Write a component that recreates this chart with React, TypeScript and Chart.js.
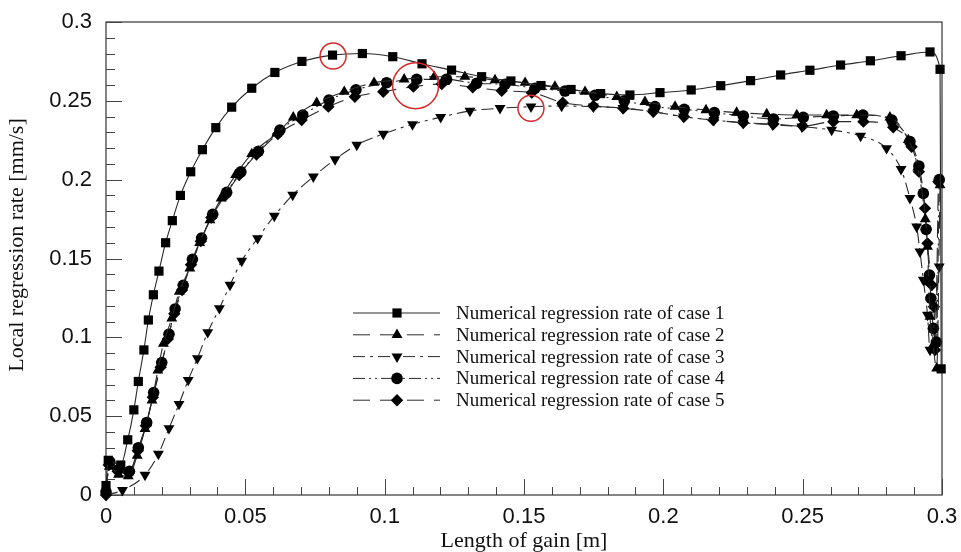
import React, { useEffect, useRef } from 'react';
import { Chart, registerables } from 'chart.js';

Chart.register(...registerables);

// ---------- data ----------
const case1X = [0, 0.0008, 0.0053, 0.0078, 0.0100, 0.0116, 0.0136, 0.0152, 0.0170, 0.0190, 0.0214, 0.0238, 0.0267, 0.0304, 0.0346, 0.0394, 0.0451, 0.0523, 0.0606, 0.0703, 0.0813, 0.0920, 0.1029, 0.1134, 0.1240, 0.1348, 0.1453, 0.1561, 0.1669, 0.1775, 0.1880, 0.1988, 0.2100, 0.2206, 0.2313, 0.2421, 0.2526, 0.2636, 0.2743, 0.2853, 0.2957, 0.2993, 0.2997];
const case1Y = [0.006, 0.022, 0.019, 0.035, 0.054, 0.072, 0.092, 0.111, 0.127, 0.142, 0.160, 0.174, 0.190, 0.205, 0.219, 0.233, 0.246, 0.258, 0.268, 0.275, 0.279, 0.280, 0.278, 0.2735, 0.2695, 0.2653, 0.2626, 0.2597, 0.2572, 0.2546, 0.2537, 0.2552, 0.2569, 0.2596, 0.2628, 0.2664, 0.2694, 0.2727, 0.2754, 0.2786, 0.281, 0.270, 0.08];

const case2X = [0, 0.0012, 0.0045, 0.0080, 0.0112, 0.0140, 0.0165, 0.0186, 0.0206, 0.0236, 0.0263, 0.0301, 0.0336, 0.0373, 0.0413, 0.0465, 0.0523, 0.0613, 0.0672, 0.0756, 0.0855, 0.0962, 0.1070, 0.1178, 0.1288, 0.1396, 0.1504, 0.1611, 0.1719, 0.1833, 0.1934, 0.2042, 0.2153, 0.2263, 0.2371, 0.2479, 0.2586, 0.2694, 0.2813, 0.2879, 0.2913, 0.2940, 0.2948, 0.2952, 0.2957, 0.2968, 0.2981, 0.2993];
const case2Y = [0.003, 0.018, 0.013, 0.012, 0.025, 0.042, 0.060, 0.079, 0.096, 0.112, 0.129, 0.1438, 0.160, 0.1744, 0.1882, 0.203, 0.2163, 0.2294, 0.2395, 0.2488, 0.2558, 0.2615, 0.2636, 0.2653, 0.2653, 0.2632, 0.2615, 0.259, 0.2558, 0.2526, 0.2494, 0.2463, 0.2442, 0.2425, 0.2416, 0.241, 0.241, 0.241, 0.2395, 0.2252, 0.2078, 0.175, 0.1575, 0.135, 0.1131, 0.095, 0.0804, 0.1966];

const case3X = [0, 0.0059, 0.0140, 0.0188, 0.0226, 0.0262, 0.0295, 0.0328, 0.0365, 0.0407, 0.0445, 0.0487, 0.0544, 0.0604, 0.0670, 0.0744, 0.0822, 0.0900, 0.0995, 0.1100, 0.1201, 0.1306, 0.1414, 0.1525, 0.1635, 0.1749, 0.1855, 0.1963, 0.2072, 0.2182, 0.2286, 0.2392, 0.2497, 0.2604, 0.2708, 0.2801, 0.2853, 0.2885, 0.2909, 0.2921, 0.2933, 0.2948, 0.2957, 0.2990];
const case3Y = [0.000, 0.003, 0.0127, 0.026, 0.0423, 0.0577, 0.0729, 0.0867, 0.1032, 0.1184, 0.1332, 0.1484, 0.1628, 0.177, 0.1903, 0.2019, 0.2129, 0.222, 0.229, 0.2351, 0.2396, 0.2436, 0.2453, 0.2463, 0.2467, 0.2463, 0.2454, 0.2431, 0.2399, 0.2378, 0.236, 0.2348, 0.2336, 0.2315, 0.2277, 0.2199, 0.2066, 0.1882, 0.1702, 0.1543, 0.1364, 0.1142, 0.092, 0.1448];

const case4X = [0, 0.0014, 0.0044, 0.0084, 0.0116, 0.0146, 0.0171, 0.0200, 0.0226, 0.0248, 0.0277, 0.0310, 0.0343, 0.0383, 0.0433, 0.0484, 0.0547, 0.0624, 0.0706, 0.0800, 0.0897, 0.1007, 0.1115, 0.1222, 0.1330, 0.1432, 0.1540, 0.1647, 0.1755, 0.1860, 0.1970, 0.2075, 0.2183, 0.2287, 0.2395, 0.2502, 0.2610, 0.2716, 0.2820, 0.2885, 0.2917, 0.2933, 0.2943, 0.2955, 0.2960, 0.2969, 0.2980, 0.2990];
const case4Y = [0.002, 0.021, 0.016, 0.015, 0.030, 0.046, 0.065, 0.084, 0.102, 0.118, 0.133, 0.1495, 0.163, 0.178, 0.192, 0.205, 0.218, 0.2315, 0.241, 0.2505, 0.257, 0.2615, 0.2636, 0.2636, 0.2611, 0.2605, 0.258, 0.2562, 0.2535, 0.250, 0.2463, 0.2446, 0.2425, 0.2404, 0.2385, 0.2395, 0.2404, 0.241, 0.2378, 0.2241, 0.2087, 0.1913, 0.1685, 0.1395, 0.1248, 0.1057, 0.097, 0.200];

const case5X = [0, 0.0010, 0.0042, 0.0082, 0.0114, 0.0143, 0.0168, 0.0196, 0.0222, 0.0245, 0.0273, 0.0305, 0.0340, 0.0378, 0.0428, 0.0478, 0.0540, 0.0617, 0.0702, 0.0798, 0.0893, 0.0995, 0.1103, 0.1205, 0.1316, 0.1420, 0.1528, 0.1639, 0.1749, 0.1856, 0.1964, 0.2074, 0.2179, 0.2287, 0.2395, 0.2500, 0.2610, 0.2718, 0.2825, 0.2891, 0.2917, 0.2939, 0.2948, 0.2963, 0.2971, 0.2975, 0.2987];
const case5Y = [0.000, 0.019, 0.015, 0.014, 0.028, 0.044, 0.062, 0.081, 0.099, 0.115, 0.130, 0.146, 0.161, 0.176, 0.190, 0.203, 0.216, 0.229, 0.2378, 0.2463, 0.2526, 0.2558, 0.259, 0.2607, 0.2586, 0.2564, 0.2552, 0.2488, 0.2467, 0.2453, 0.2431, 0.2399, 0.2378, 0.2361, 0.2353, 0.234, 0.2368, 0.2368, 0.2332, 0.2209, 0.2051, 0.1818, 0.1596, 0.1332, 0.1194, 0.092, 0.1987];

const seriesLabels = [
  'Numerical regression rate of case 1',
  'Numerical regression rate of case 2',
  'Numerical regression rate of case 3',
  'Numerical regression rate of case 4',
  'Numerical regression rate of case 5',
];

const xTickValues = [0, 0.05, 0.1, 0.15, 0.2, 0.25, 0.3];
const xTickLabels = ['0', '0.05', '0.1', '0.15', '0.2', '0.25', '0.3'];
const yTickValues = [0, 0.05, 0.1, 0.15, 0.2, 0.25, 0.3];
const yTickLabels = ['0', '0.05', '0.1', '0.15', '0.2', '0.25', '0.3'];
const minorTickValues = Array.from({ length: 31 }, (_, i) => i / 100);

const xAxisTitle = 'Length of gain [m]';
const yAxisTitle = 'Local regression rate [mm/s]';

// highlighted points (data coords)
const highlightX = [0.0815, 0.1111, 0.1525];
const highlightY = [0.2784, 0.2596, 0.2453];

// ---------- styles ----------
const SANS = "'Liberation Sans', Arial, sans-serif";
const SERIF = "'Liberation Serif', 'Times New Roman', serif";
const LINE_COLOR = '#2a2a2a';
const MARK_COLOR = '#000';
const highlightRadiusPx = [13, 23, 13];

function drawMarker(ctx: CanvasRenderingContext2D, style: string, x: number, y: number, r: number, rot: number) {
  ctx.save();
  ctx.translate(x, y);
  ctx.rotate((rot * Math.PI) / 180);
  ctx.beginPath();
  if (style === 'rect') {
    const s = Math.SQRT1_2 * r;
    ctx.rect(-s, -s, 2 * s, 2 * s);
  } else if (style === 'circle') {
    ctx.arc(0, 0, r, 0, Math.PI * 2);
  } else if (style === 'triangle') {
    for (let k = 0; k < 3; k++) {
      const a = -Math.PI / 2 + (k * 2 * Math.PI) / 3;
      const px = Math.cos(a) * r;
      const py = Math.sin(a) * r;
      if (k === 0) ctx.moveTo(px, py);
      else ctx.lineTo(px, py);
    }
    ctx.closePath();
  } else if (style === 'rectRot') {
    ctx.moveTo(0, -r);
    ctx.lineTo(r, 0);
    ctx.lineTo(0, r);
    ctx.lineTo(-r, 0);
    ctx.closePath();
  }
  ctx.fillStyle = MARK_COLOR;
  ctx.fill();
  ctx.restore();
}

const frameTicksPlugin = {
  id: 'frameTicks',
  beforeDatasetsDraw(chart: any) {
    const { ctx, chartArea: a, scales } = chart;
    const xs = scales.x;
    const ys = scales.y;
    ctx.save();
    ctx.strokeStyle = '#444';
    ctx.lineWidth = 1.3;
    ctx.strokeRect(a.left, a.top, a.right - a.left, a.bottom - a.top);
    ctx.lineWidth = 1;
    ctx.beginPath();
    minorTickValues.forEach((v, i) => {
      const major = i % 5 === 0;
      const py = Math.round(ys.getPixelForValue(v)) + 0.5;
      ctx.moveTo(a.left, py);
      ctx.lineTo(a.left + (major ? 16 : 9), py);
      const px = Math.round(xs.getPixelForValue(v)) + 0.5;
      ctx.moveTo(px, a.bottom);
      ctx.lineTo(px, a.bottom - (major ? 16 : 8));
    });
    ctx.stroke();
    ctx.restore();
  },
};

const overlayPlugin = {
  id: 'overlay',
  afterDatasetsDraw(chart: any) {
    const { ctx, chartArea: a, scales } = chart;
    ctx.save();
    ctx.strokeStyle = '#d42a2a';
    ctx.lineWidth = 1.5;
    highlightX.forEach((hx, i) => {
      ctx.beginPath();
      ctx.arc(scales.x.getPixelForValue(hx), scales.y.getPixelForValue(highlightY[i]), highlightRadiusPx[i], 0, Math.PI * 2);
      ctx.stroke();
    });
    ctx.restore();

    const x0 = a.left + 247;
    const x1 = a.left + 334;
    const xm = a.left + 291;
    const yStart = a.top + 291;
    const rowH = 21.8;
    ctx.save();
    chart.data.datasets.forEach((ds: any, i: number) => {
      const yy = yStart + i * rowH;
      ctx.beginPath();
      ctx.setLineDash(ds.borderDash || []);
      ctx.strokeStyle = LINE_COLOR;
      ctx.lineWidth = 1;
      ctx.moveTo(x0, yy);
      ctx.lineTo(x1, yy);
      ctx.stroke();
      ctx.setLineDash([]);
      drawMarker(ctx, ds.pointStyle, xm, yy, ds.pointRadius, ds.pointRotation || 0);
      ctx.fillStyle = '#111';
      ctx.font = `19px ${SERIF}`;
      ctx.textAlign = 'left';
      ctx.textBaseline = 'middle';
      ctx.fillText(ds.label, a.left + 350, yy + 1);
    });
    ctx.restore();
  },
  afterDraw(chart: any) {
    const { ctx } = chart;
    ctx.save();
    ctx.translate(17, 245);
    ctx.rotate(-Math.PI / 2);
    ctx.font = `22px ${SERIF}`;
    ctx.fillStyle = '#111';
    ctx.textAlign = 'center';
    ctx.textBaseline = 'middle';
    ctx.fillText(yAxisTitle, 0, 0);
    ctx.restore();
  },
};

function zeroPad(s: any) {
  s.paddingTop = 0;
  s.paddingBottom = 0;
  s.paddingLeft = 0;
  s.paddingRight = 0;
}

function mk(i: number, xs: number[], ys: number[], pointStyle: string, radius: number, dash: number[], rotation = 0) {
  return {
    label: seriesLabels[i],
    data: xs.map((x, k) => ({ x, y: ys[k] })),
    showLine: true,
    borderColor: LINE_COLOR,
    borderWidth: 1.1,
    borderDash: dash,
    pointStyle,
    pointRadius: radius,
    pointRotation: rotation,
    pointBackgroundColor: MARK_COLOR,
    pointBorderColor: MARK_COLOR,
    pointBorderWidth: 0,
    cubicInterpolationMode: 'monotone',
    clip: false,
  };
}

export default function App() {
  const ref = useRef<HTMLCanvasElement>(null);
  useEffect(() => {
    const chart = new Chart(ref.current as HTMLCanvasElement, {
      type: 'scatter',
      data: {
        datasets: [
          mk(0, case1X, case1Y, 'rect', 6.5, []),
          mk(1, case2X, case2Y, 'triangle', 6.3, [17, 10]),
          mk(2, case3X, case3Y, 'triangle', 6.3, [12, 5, 3, 5], 180),
          mk(3, case4X, case4Y, 'circle', 5.8, [12, 4, 2, 4, 2, 4]),
          mk(4, case5X, case5Y, 'rectRot', 6.2, [17, 10]),
        ] as any,
      },
      options: {
        responsive: false,
        animation: false,
        devicePixelRatio: 1,
        events: [],
        layout: { padding: { top: 22, right: 19, left: 0, bottom: 0 } },
        plugins: { legend: { display: false }, tooltip: { enabled: false } },
        scales: {
          x: {
            type: 'linear',
            min: 0,
            max: 0.3,
            afterFit: (s: any) => { s.height = 57; zeroPad(s); },
            afterBuildTicks: (s: any) => { s.ticks = xTickValues.map((v) => ({ value: v })); },
            ticks: {
              callback: (_v: any, i: number) => xTickLabels[i],
              font: { family: SANS, size: 22 },
              color: '#111',
              padding: 9,
              maxRotation: 0,
              autoSkip: false,
            },
            grid: { display: false, drawTicks: false },
            border: { display: false },
            title: {
              display: true,
              text: xAxisTitle,
              font: { family: SERIF, size: 22, lineHeight: 1 },
              color: '#111',
              padding: { top: 0, bottom: 0 },
            },
          },
          y: {
            type: 'linear',
            min: 0,
            max: 0.3,
            afterFit: (s: any) => { s.width = 106; zeroPad(s); },
            afterBuildTicks: (s: any) => { s.ticks = yTickValues.map((v) => ({ value: v })); },
            ticks: {
              callback: (_v: any, i: number) => yTickLabels[i],
              font: { family: SANS, size: 22 },
              color: '#111',
              padding: 14,
              autoSkip: false,
            },
            grid: { display: false, drawTicks: false },
            border: { display: false },
          },
        },
      } as any,
      plugins: [frameTicksPlugin, overlayPlugin],
    });
    return () => chart.destroy();
  }, []);
  return (
    <div style={{ position: 'fixed', left: 0, top: 0, width: 961, height: 552, background: '#fff' }}>
      <canvas ref={ref} width={961} height={552} style={{ display: 'block' }} />
    </div>
  );
}
